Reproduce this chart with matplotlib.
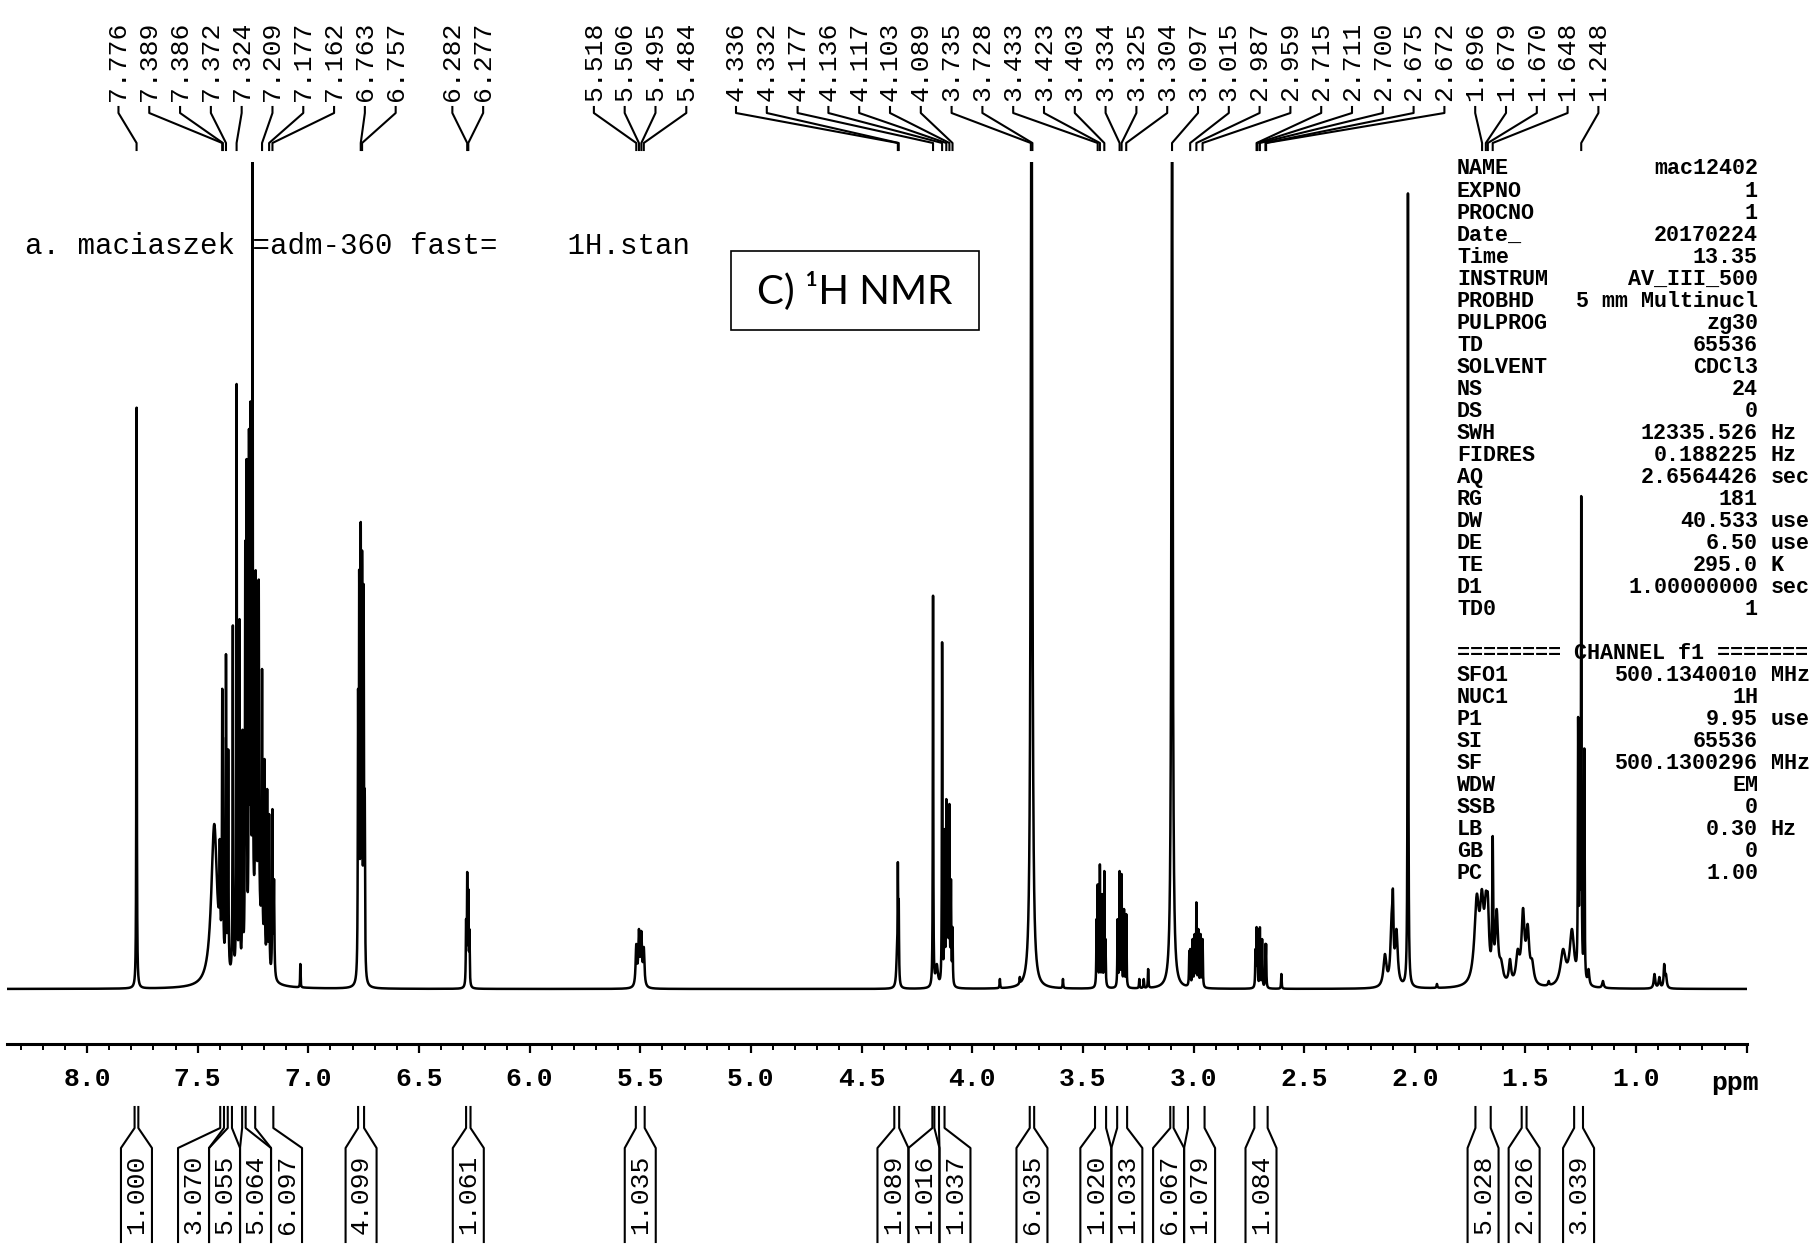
import numpy as np
import matplotlib
matplotlib.use("Agg")
from matplotlib import pyplot as plt
from matplotlib.patches import Rectangle
from matplotlib.ticker import FuncFormatter, MultipleLocator

W, H = 1816, 1248
MONO = "Liberation Mono"

# resolved lines of the 1H spectrum: position (ppm), height above baseline, half width (ppm)
peak_ppm = [
    7.776, 7.036, 7.425, 7.400, 7.389, 7.386, 7.372, 7.362, 7.341, 7.324,
    7.311, 7.297, 7.285, 7.279, 7.268, 7.261, 7.252, 7.238, 7.232, 7.224,
    7.209, 7.198, 7.186, 7.177, 7.162, 7.155,
    6.775, 6.770, 6.763, 6.757, 6.750, 6.745,
    6.287, 6.282, 6.277, 6.272,
    5.518, 5.506, 5.495, 5.484,
    4.340, 4.336, 4.332,
    4.177, 4.160, 4.136, 4.125, 4.117, 4.110, 4.103, 4.096, 4.089,
    3.875, 3.785, 3.765, 3.590,
    3.732,
    3.438, 3.433, 3.423, 3.413, 3.403, 3.398,
    3.343, 3.334, 3.325, 3.314, 3.304,
    3.245, 3.225, 3.205,
    3.097,
    3.019, 3.015, 3.004, 2.995, 2.987, 2.978, 2.968, 2.959,
    2.720, 2.715, 2.711, 2.700, 2.690, 2.675, 2.672,
    2.603,
    2.135, 2.105, 2.099, 2.083,
    2.031, 1.900,
    1.735, 1.720, 1.697, 1.679, 1.670, 1.648, 1.630, 1.610,
    1.570, 1.535, 1.511, 1.490, 1.470,
    1.395,
    1.330, 1.290, 1.262, 1.255, 1.248, 1.234, 1.215,
    1.150,
    0.917, 0.895, 0.873, 0.865,
]
peak_height = [
    584, 25, 165, 150, 300, 250, 335, 240, 365, 605,
    370, 260, 450, 530, 560, 590, 900, 420, 130, 410,
    320, 230, 200, 175, 180, 110,
    300, 420, 467, 440, 405, 200,
    70, 117, 100, 60,
    45, 60, 58, 42,
    40, 127, 90,
    395, 25, 347, 160, 190, 165, 185, 110, 62,
    10, 12, 12, 10,
    1000,
    70, 105, 125, 95, 118, 50,
    70, 118, 115, 80, 75,
    10, 10, 20,
    900,
    38, 40, 50, 55, 87, 60, 55, 50,
    40, 62, 60, 62, 50, 45, 45,
    15,
    35, 75, 100, 60,
    796, 5,
    40, 95, 100, 98, 95, 153, 80, 30,
    30, 40, 81, 65, 30,
    8,
    40, 60, 272, 150, 493, 241, 20,
    8,
    15, 12, 25, 15,
]
peak_hwhm = [
    0.0012, 0.0012, 0.016, 0.002, 0.0014, 0.0014, 0.0014, 0.0014, 0.0014, 0.0012,
    0.0014, 0.0014, 0.0014, 0.0014, 0.0014, 0.0014, 0.0012, 0.0014, 0.02, 0.0014,
    0.0014, 0.0014, 0.0014, 0.0014, 0.0014, 0.002,
    0.0015, 0.0014, 0.0014, 0.0014, 0.0014, 0.0015,
    0.0015, 0.0014, 0.0014, 0.0015,
    0.0035, 0.0035, 0.0035, 0.0035,
    0.004, 0.0013, 0.0015,
    0.0012, 0.006, 0.0012, 0.0015, 0.0013, 0.0015, 0.0013, 0.0015, 0.0015,
    0.0015, 0.0015, 0.0015, 0.0015,
    0.004,
    0.0014, 0.0013, 0.0013, 0.0014, 0.0013, 0.0015,
    0.0014, 0.0013, 0.0013, 0.0014, 0.0014,
    0.0015, 0.0015, 0.0015,
    0.0035,
    0.0015, 0.0015, 0.0015, 0.0015, 0.0012, 0.0015, 0.0015, 0.0015,
    0.0015, 0.0013, 0.0013, 0.0013, 0.0015, 0.0013, 0.0013,
    0.0015,
    0.008, 0.006, 0.003, 0.007,
    0.0015, 0.002,
    0.012, 0.012, 0.01, 0.008, 0.006, 0.0025, 0.007, 0.01,
    0.006, 0.009, 0.008, 0.008, 0.009,
    0.003,
    0.014, 0.012, 0.0015, 0.002, 0.0014, 0.0015, 0.004,
    0.004,
    0.004, 0.004, 0.003, 0.004,
]

# peak picking list printed above the spectrum
picked_ppm = [
    7.776, 7.389, 7.386, 7.372, 7.324, 7.209, 7.177, 7.162, 6.763, 6.757,
    6.282, 6.277, 5.518, 5.506, 5.495, 5.484,
    4.336, 4.332, 4.177, 4.136, 4.117, 4.103, 4.089, 3.735, 3.728, 3.433,
    3.423, 3.403, 3.334, 3.325, 3.304, 3.097, 3.015, 2.987, 2.959, 2.715,
    2.711, 2.700, 2.675, 2.672, 1.696, 1.679, 1.670, 1.648, 1.248,
]

# integral regions and values
integral_from = [7.785, 7.398, 7.364, 7.299, 7.240, 6.775, 6.287, 5.520,
                 4.352, 4.180, 4.150, 3.740, 3.445, 3.345, 3.105, 3.025,
                 2.725, 1.726, 1.517, 1.280]
integral_to = [7.768, 7.381, 7.345, 7.283, 7.158, 6.748, 6.267, 5.480,
               4.330, 4.171, 4.125, 3.720, 3.395, 3.300, 3.090, 2.950,
               2.665, 1.657, 1.495, 1.240]
integral_value = [1.000, 3.070, 5.055, 5.064, 6.097, 4.099, 1.061, 1.035,
                  1.089, 1.016, 1.037, 6.035, 1.020, 1.033, 6.067, 1.079,
                  1.084, 5.028, 2.026, 3.039]

# acquisition / processing parameters
acq_names = ["NAME", "EXPNO", "PROCNO", "Date_", "Time", "INSTRUM", "PROBHD",
             "PULPROG", "TD", "SOLVENT", "NS", "DS", "SWH", "FIDRES", "AQ",
             "RG", "DW", "DE", "TE", "D1", "TD0"]
acq_values = ["mac12402", "1", "1", "20170224", "13.35", "AV_III_500",
              "5 mm Multinucl", "zg30", "65536", "CDCl3", "24", "0",
              "12335.526", "0.188225", "2.6564426", "181", "40.533", "6.50",
              "295.0", "1.00000000", "1"]
acq_units = ["", "", "", "", "", "", "", "", "", "", "", "", "Hz", "Hz",
             "sec", "", "use", "use", "K", "sec", ""]
chan_names = ["SFO1", "NUC1", "P1", "SI", "SF", "WDW", "SSB", "LB", "GB", "PC"]
chan_values = ["500.1340010", "1H", "9.95", "65536", "500.1300296", "EM",
               "0", "0.30", "0", "1.00"]
chan_units = ["MHz", "", "use", "", "MHz", "", "", "Hz", "", ""]


def lorentz(x, p, w):
    return w ** 2 / ((x - p) ** 2 + w ** 2)


def spread(xs, gap):
    # push labels apart so neighbours are at least `gap` px from each other
    groups = [[x] for x in xs]

    def place(g):
        n = len(g)
        return np.mean(g) - (n - 1) / 2 * gap + gap * np.arange(n)

    merged = True
    while merged:
        merged = False
        for i in range(len(groups) - 1):
            if place(groups[i + 1])[0] - place(groups[i])[-1] < gap:
                groups[i] = groups[i] + groups.pop(i + 1)
                merged = True
                break
    return np.concatenate([place(g) for g in groups])


# build the trace so each line reaches its listed height
pp = np.array(peak_ppm)
hh = np.array(peak_height, dtype=float)
ww = np.array(peak_hwhm)
M = lorentz(pp[:, None], pp[None, :], ww[None, :])
amp = np.clip(np.linalg.solve(M, hh), 0, None)

x = np.linspace(8.3615, 0.4989, 40000)
y = (amp[None, :] * lorentz(x[:, None], pp[None, :], ww[None, :])).sum(axis=1)

plt.rcParams["font.family"] = MONO
fig = plt.figure(figsize=(W / 100, H / 100), dpi=100)

# spectrum axes: bottom spine is the ppm scale
ax = fig.add_axes([7 / W, (H - 1044) / H, 1740 / W, (1044 - 162) / H])
ax.plot(x, y, color="black", lw=1.8)
ax.set_xlim(8.3615, 0.4989)
ax.set_ylim(-55, 827)
for side in ["top", "left", "right"]:
    ax.spines[side].set_visible(False)
ax.spines["bottom"].set_linewidth(2.2)
ax.set_yticks([])
ax.xaxis.set_major_locator(MultipleLocator(0.5))
ax.xaxis.set_minor_locator(MultipleLocator(0.1))
ax.xaxis.set_major_formatter(FuncFormatter(lambda v, _: "" if v < 0.75 else f"{v:.1f}"))
ax.tick_params(axis="x", which="major", length=6.5, width=1.6, labelsize=19, pad=10)
ax.tick_params(axis="x", which="minor", length=4, width=1.4)
for lab in ax.get_xticklabels():
    lab.set_fontweight("bold")
ax.patch.set_visible(False)

# overlay in pixel units for the annotations
ov = fig.add_axes([0, 0, 1, 1])
ov.set_xlim(0, W)
ov.set_ylim(H, 0)
ov.axis("off")


def to_px(ppm):
    ppm = np.atleast_1d(ppm)
    return ax.transData.transform(np.column_stack([ppm, np.zeros_like(ppm)]))[:, 0]


ov.text(to_px(0.5)[0] + 12, 1083, "ppm", ha="right", va="center", fontsize=19,
        fontweight="bold")

# peak labels
xp = to_px(picked_ppm)
xl = spread(xp, 30.8)
for p, a, b in zip(picked_ppm, xp, xl):
    ov.plot([b, b, a, a], [107, 113, 143, 150], color="black", lw=1.5)
    ov.text(b, 101, f"{p:.3f}", rotation=90, ha="center", va="bottom", fontsize=19)

# integral labels
x1 = to_px(integral_from)
x2 = to_px(integral_to)
xc = spread((x1 + x2) / 2, 31)
for a, b, c, v in zip(x1, x2, xc, integral_value):
    ov.plot([a, a, c - 15.5, c - 15.5], [1107, 1128, 1148, 1242], color="black", lw=1.5)
    ov.plot([b, b, c + 15.5, c + 15.5], [1107, 1128, 1148, 1242], color="black", lw=1.5)
    ov.text(c, 1194, f"{v:.3f}", rotation=90, ha="center", va="center", fontsize=19)

# header line and panel tag
ov.text(25, 246, "a. maciaszek =adm-360 fast=    1H.stan", ha="left", va="center", fontsize=21)
ov.add_patch(Rectangle((731, 251), 248, 79, fill=False, ec="black", lw=1.2))
ov.text(855, 291, "C) \u00b9H NMR", ha="center", va="center", fontsize=29, family="Lato")

# parameter block
row = 22.03
rows = list(zip(acq_names, acq_values, acq_units))
for i, (n, v, u) in enumerate(rows):
    yy = 169 + i * row
    ov.text(1457, yy, n, ha="left", va="center", fontsize=15.7, fontweight="bold")
    ov.text(1758, yy, v, ha="right", va="center", fontsize=15.7, fontweight="bold")
    if u:
        ov.text(1771, yy, u, ha="left", va="center", fontsize=15.7, fontweight="bold")
yy = 169 + (len(rows) + 1) * row
ov.text(1457, yy, "======== CHANNEL f1 =======", ha="left", va="center", fontsize=15.7,
        fontweight="bold")
for i, (n, v, u) in enumerate(zip(chan_names, chan_values, chan_units)):
    yy = 169 + (len(rows) + 2 + i) * row
    ov.text(1457, yy, n, ha="left", va="center", fontsize=15.7, fontweight="bold")
    ov.text(1758, yy, v, ha="right", va="center", fontsize=15.7, fontweight="bold")
    if u:
        ov.text(1771, yy, u, ha="left", va="center", fontsize=15.7, fontweight="bold")

fig.savefig("out.png", dpi=100)
